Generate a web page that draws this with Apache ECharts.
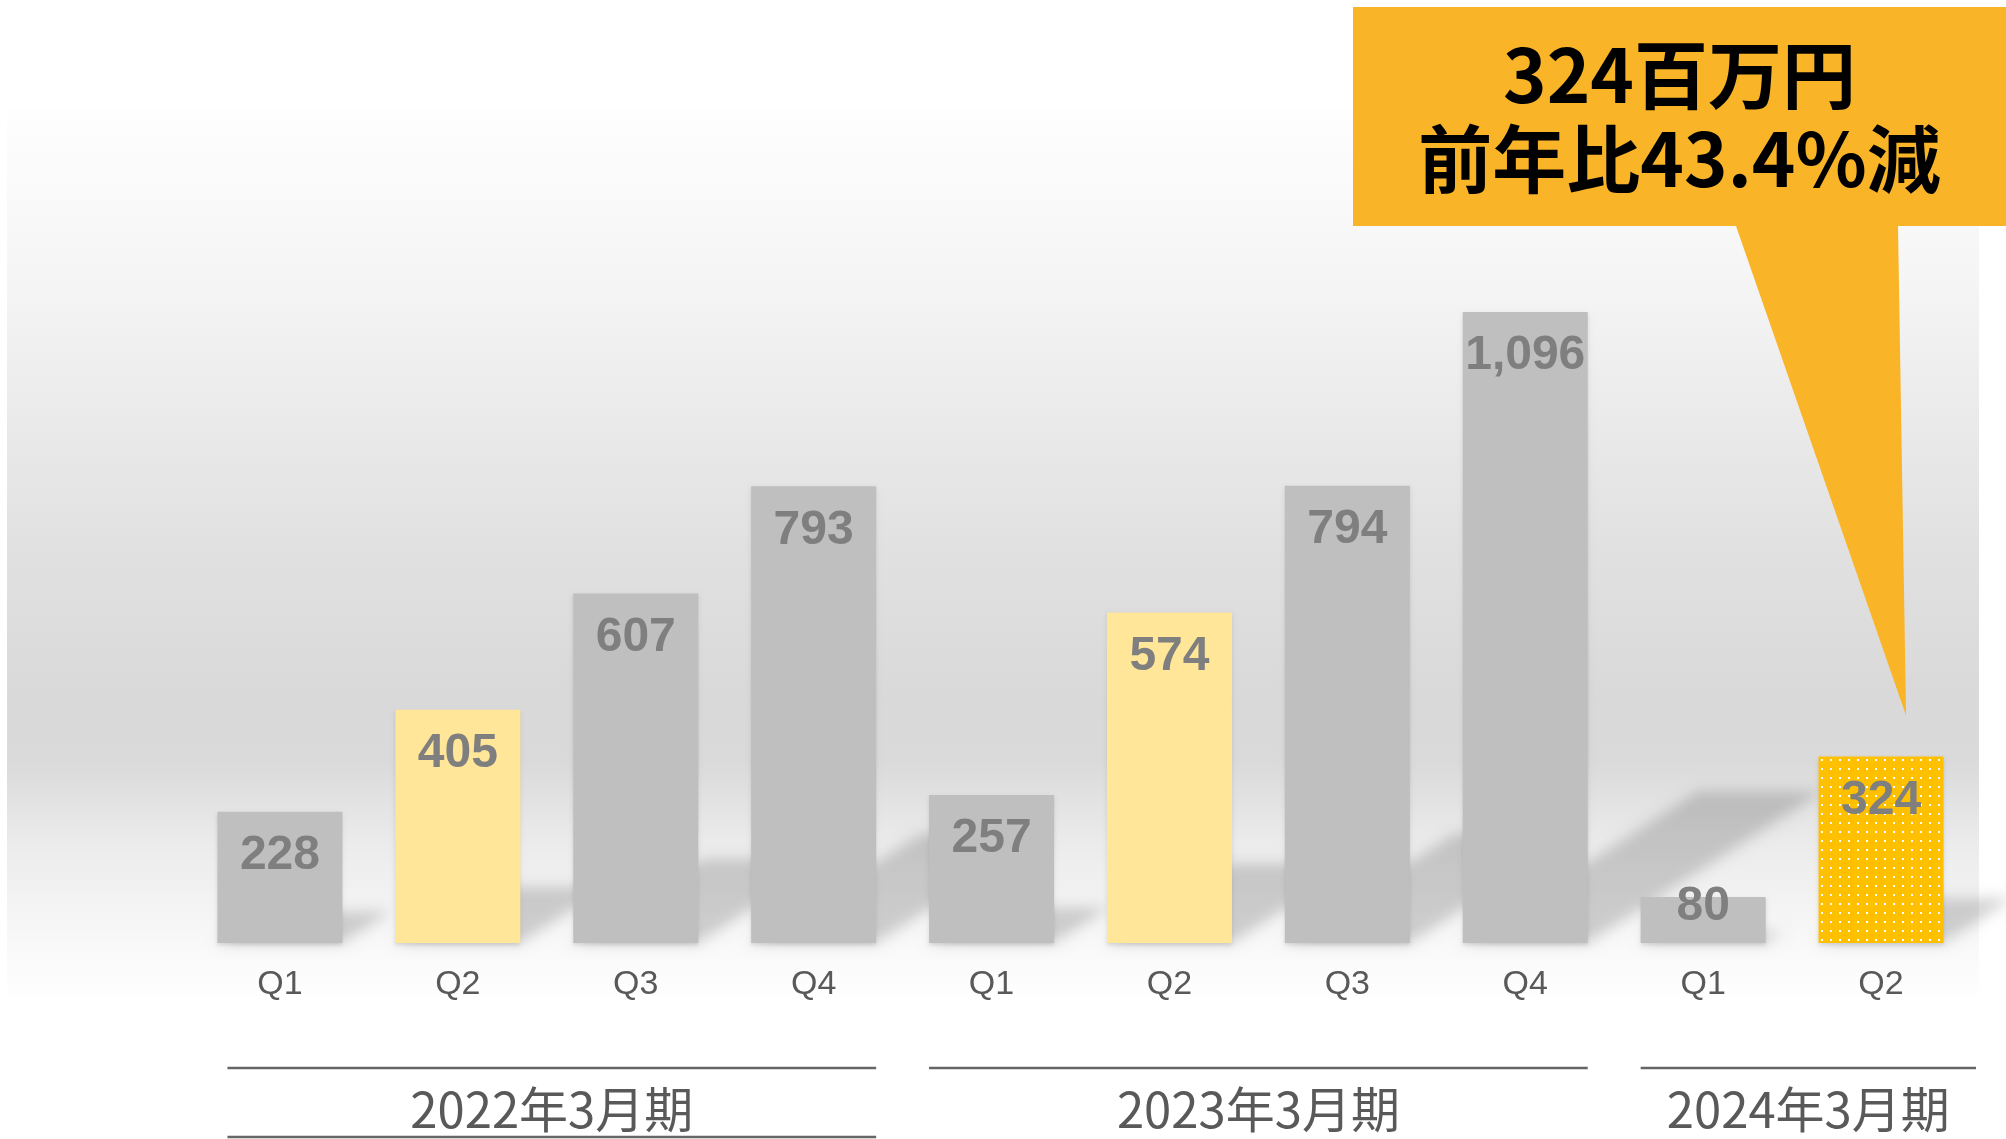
<!DOCTYPE html>
<html>
<head>
<meta charset="utf-8">
<script src="https://cdn.jsdelivr.net/npm/echarts@6/dist/echarts.min.js"></script>
<style>
  html, body { margin: 0; padding: 0; background: #fff; }
  #chart { width: 2006px; height: 1139px; }
</style>
</head>
<body>
<div id="chart"></div>
<script>
// quarterly figures (百万円)
const quarters = ['Q1', 'Q2', 'Q3', 'Q4', 'Q1', 'Q2', 'Q3', 'Q4', 'Q1', 'Q2'];
const sales = [228, 405, 607, 793, 257, 574, 794, 1096, 80, 324];
const fiscalYears = ['2022年3月期', '2023年3月期', '2024年3月期'];
const yearFirst = [0, 4, 8];
const yearLast = [3, 7, 9];
const calloutLines = ['324百万円', '前年比43.4%減'];

const BAR_W = 125;
const GRAY = '#bfbfbf';
const PALE = '#ffe699';
const TEXT = '#595959';
const LAST = sales.length - 1;
const JP_FONT = "'Noto Sans CJK JP', 'Noto Sans CJK SC', sans-serif";
const LATIN_FONT = "'Liberation Sans', Arial, sans-serif";

const chart = echarts.init(document.getElementById('chart'));

// dotted fill for the latest quarter
const dots = document.createElement('canvas');
dots.width = 9; dots.height = 9;
const dctx = dots.getContext('2d');
dctx.fillStyle = '#ffc000';
dctx.fillRect(0, 0, 9, 9);
dctx.fillStyle = '#ffffff';
dctx.fillRect(3, 3, 2, 2);

function barColor(i) {
  if (i === LAST) return { image: dots, repeat: 'repeat' };
  if (quarters[i] === 'Q2') return PALE;
  return GRAY;
}

// soft floor shadow, skewed up-right, sized by the bar height
const OFF = 4000;
function renderShadow(params, api) {
  const base = api.coord([api.value(0), 0]);
  const top = api.coord([api.value(0), api.value(1)]);
  const h = base[1] - top[1];
  const dy = h * 0.24;
  const dx = dy * 1.55;
  const x0 = base[0] - BAR_W / 2, x1 = base[0] + BAR_W / 2;
  const pts = [[x0, base[1]], [x1, base[1]], [x1 + dx, base[1] - dy], [x0 + dx, base[1] - dy]];
  return {
    type: 'polygon',
    silent: true,
    shape: { points: pts.map(p => [p[0] - OFF, p[1]]) },
    style: { fill: '#000', shadowColor: 'rgba(0,0,0,0.17)', shadowBlur: 14, shadowOffsetX: OFF }
  };
}

const option = {
  animation: false,
  backgroundColor: '#ffffff',
  grid: { left: 191, right: 36, top: 252, bottom: 196 },
  xAxis: {
    type: 'category',
    data: quarters,
    axisLine: { show: false },
    axisTick: { show: false },
    axisLabel: {
      interval: 0,
      margin: 25,
      color: TEXT,
      fontSize: 34,
      fontFamily: LATIN_FONT
    }
  },
  yAxis: {
    type: 'value',
    min: 0,
    max: 1200,
    show: false,
    splitLine: { show: false }
  },
  series: [
    {
      type: 'custom',
      z: 1,
      renderItem: renderShadow,
      data: sales.map((v, i) => [i, v]),
      encode: { x: 0, y: 1 }
    },
    {
      type: 'bar',
      z: 3,
      barWidth: BAR_W,
      data: sales.map((v, i) => {
        const item = { value: v, itemStyle: { color: barColor(i) } };
        // too short for the label: let it sit across the top edge
        if (v < 150) item.label = { distance: -14 };
        return item;
      }),
      itemStyle: {
        shadowColor: 'rgba(0,0,0,0.12)',
        shadowBlur: 4,
        shadowOffsetY: 2
      },
      label: {
        show: true,
        position: 'insideTop',
        distance: 20,
        color: '#7f7f7f',
        fontSize: 48,
        fontWeight: 'bold',
        fontFamily: LATIN_FONT,
        formatter: p => p.value.toLocaleString('en-US')
      }
    }
  ]
};

chart.setOption(option);

// annotations placed from the axis scales
const xPx = i => chart.convertToPixel({ xAxisIndex: 0 }, i);
const yPx = v => chart.convertToPixel({ yAxisIndex: 0 }, v);
const baseY = yPx(0);
const catW = xPx(1) - xPx(0);

const graphics = [
  {
    type: 'rect',
    z: -10,
    silent: true,
    shape: { x: 7, y: 110, width: 1972, height: 892 },
    style: {
      fill: new echarts.graphic.LinearGradient(0, 0, 0, 1, [
        { offset: 0, color: '#fefefe' },
        { offset: 0.19, color: '#f5f5f5' },
        { offset: 0.32, color: '#ececec' },
        { offset: 0.49, color: '#e1e1e1' },
        { offset: 0.66, color: '#d9d9d9' },
        { offset: 0.73, color: '#dadada' },
        { offset: 0.82, color: '#ebebeb' },
        { offset: 0.88, color: '#f2f2f2' },
        { offset: 0.93, color: '#f8f8f8' },
        { offset: 1, color: '#ffffff' }
      ])
    }
  }
];

fiscalYears.forEach((name, k) => {
  const left = xPx(yearFirst[k]) - BAR_W / 2 + (k === 0 ? 10 : 0);
  const right = k === fiscalYears.length - 1
    ? xPx(yearLast[k]) + catW / 2 + 6
    : xPx(yearLast[k]) + BAR_W / 2;
  const lineY = baseY + 125;
  graphics.push({
    type: 'line',
    silent: true,
    shape: { x1: left, y1: lineY, x2: right, y2: lineY },
    style: { stroke: '#666666', lineWidth: 2.5 }
  });
  if (k === 0) {
    graphics.push({
      type: 'line',
      silent: true,
      shape: { x1: left, y1: baseY + 194, x2: right, y2: baseY + 194 },
      style: { stroke: '#666666', lineWidth: 2.5 }
    });
  }
  graphics.push({
    type: 'text',
    silent: true,
    style: {
      text: name,
      x: (left + right) / 2,
      y: baseY + 166,
      textAlign: 'center',
      textVerticalAlign: 'middle',
      fill: TEXT,
      fontSize: 49,
      fontFamily: JP_FONT
    }
  });
});

// callout pointing at the latest quarter
const tipX = xPx(LAST) + 25;
const tipY = yPx(sales[LAST]) - 41;
const boxL = 1353, boxR = 2006, boxT = 7, boxB = 226;
graphics.push({
  type: 'polygon',
  z: 20,
  silent: true,
  shape: {
    points: [[boxL, boxT], [boxR, boxT], [boxR, boxB], [1898, boxB], [tipX, tipY], [1736, boxB], [boxL, boxB]]
  },
  style: { fill: '#f9b428' }
});
calloutLines.forEach((t, k) => {
  graphics.push({
    type: 'text',
    z: 21,
    silent: true,
    style: {
      text: t,
      x: (boxL + boxR) / 2,
      y: 75 + k * 84,
      textAlign: 'center',
      textVerticalAlign: 'middle',
      fill: '#000000',
      fontSize: 74,
      fontWeight: 'bold',
      fontFamily: JP_FONT
    }
  });
});

chart.setOption({ graphic: graphics });
</script>
</body>
</html>
